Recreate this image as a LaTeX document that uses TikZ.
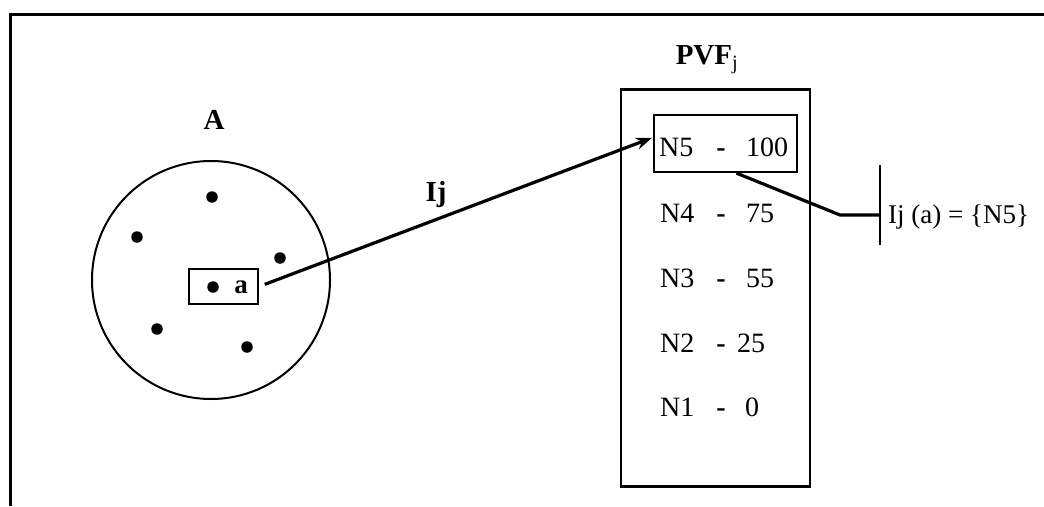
\documentclass[tikz,border=0pt]{standalone}
\usepackage{fontspec}
\setmainfont{Liberation Serif}
\usetikzlibrary{arrows.meta}
\begin{document}
\begin{tikzpicture}[x=1pt,y=-1pt,
  txt/.style={inner sep=0pt,anchor=base west,font=\fontsize{28}{30}\selectfont},
  dsh/.style={inner sep=0pt,anchor=base,font=\fontsize{28}{30}\selectfont\bfseries},
  btxt/.style={inner sep=0pt,font=\fontsize{29}{30}\selectfont\bfseries},
  dot/.style={circle,fill=black,inner sep=0pt,minimum size=11.5pt},
  frame/.style={line width=3pt},
  box/.style={draw,line width=2.3pt,inner sep=0pt},
  conn/.style={line width=3.2pt}]
\useasboundingbox (0,0) rectangle (1044,506);
% outer frame (top and left only visible)
\coordinate (fbl) at (10,506);
\coordinate (ftl) at (10,14);
\coordinate (ftr) at (1044,14);
\draw[frame] (fbl) -- (ftl) -- (ftr);
% set A
\node[btxt] (labA) at (214,120) {A};
\node[draw,circle,line width=2pt,minimum size=238pt,inner sep=0pt] (setA) at (211,280) {};
\node[dot] (d1) at (212,197) {};
\node[dot] (d2) at (137,237) {};
\node[dot] (d3) at (280,258) {};
\node[dot] (d4) at (157,329) {};
\node[dot] (d5) at (247,347) {};
\node[box,minimum width=69pt,minimum height=35pt] (abox) at (223.5,286.5) {};
\node[dot] (da) at (213,287) {};
\node[btxt,font=\fontsize{27}{30}\selectfont\bfseries] (la) at (241,287) {a};
% arrow label
\node[btxt] (labIj) at (436,195) {Ij};
% PVF
\node[btxt] (labPVF) at (707,60) {PVF$_{\mathrm{j}}$};
\node[box,minimum width=189pt,minimum height=397pt] (pvf) at (715.5,288) {};
\node[box,minimum width=143pt,minimum height=57pt] (n5box) at (725.5,143.5) {};
% rows (baselines)
\node[txt] (r5n) at (659,156) {N5};
\node[dsh] (r5d) at (721,156) {-};
\node[txt] (r5v) at (746,156) {100};
\node[txt] (r4n) at (660,222) {N4};
\node[dsh] (r4d) at (721,222) {-};
\node[txt] (r4v) at (746,222) {75};
\node[txt] (r3n) at (660,287) {N3};
\node[dsh] (r3d) at (721,287) {-};
\node[txt] (r3v) at (746,287) {55};
\node[txt] (r2n) at (660,352) {N2};
\node[dsh] (r2d) at (721,352) {-};
\node[txt] (r2v) at (737,352) {25};
\node[txt] (r1n) at (660,416) {N1};
\node[dsh] (r1d) at (721,416) {-};
\node[txt] (r1v) at (745,416) {0};
% mapping arrow
\draw[conn,-{Stealth[length=16pt,width=12pt]},shorten <=6pt,shorten >=1pt]
  (abox.east) -- ([yshift=6pt]n5box.west);
% result label
\node[txt,font=\fontsize{27}{30}\selectfont] (res) at (888,223) {Ij (a) = \{N5\}};
\coordinate (bartop) at (880,165);
\coordinate (barbot) at (880,245);
\coordinate (barmid) at (880,215);
\coordinate (bend) at (840,215);
\draw[line width=2.5pt] (bartop) -- (barbot);
\draw[conn] ([xshift=11pt]n5box.south) -- (bend) -- (barmid);
\end{tikzpicture}
\end{document}
